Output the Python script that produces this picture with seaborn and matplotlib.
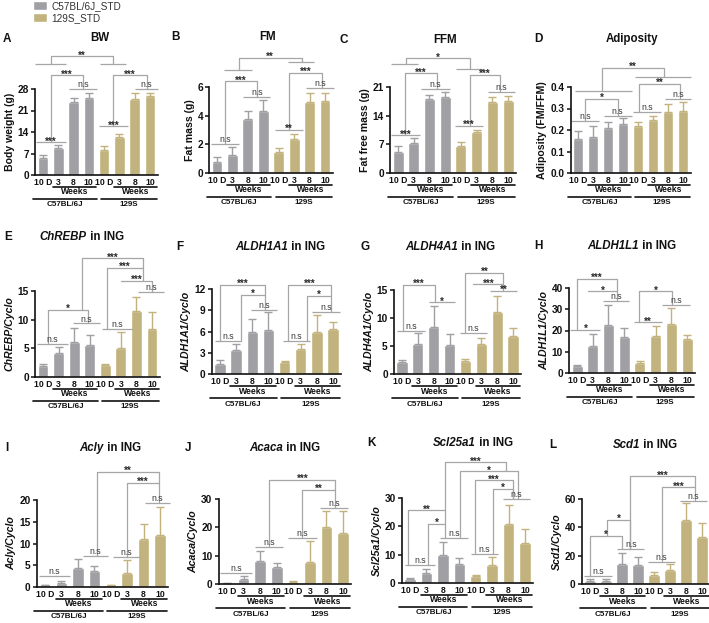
import numpy as np
import pandas as pd
import matplotlib
matplotlib.use("Agg")
import matplotlib.pyplot as plt
import matplotlib.transforms as mtrans
from matplotlib.patches import Patch
import seaborn as sns

# ---------------- data ----------------
time_labels = ["10 D", "3", "8", "10"]
strains = ["C57BL/6J", "129S"]
legend_labels = ["C57BL/6J_STD", "129S_STD"]

BW_C57 = [5.5, 8.9, 23.8, 25.0]
BW_C57_SD = [0.9, 1.0, 1.2, 1.7]
BW_129 = [8.2, 12.5, 24.7, 25.6]
BW_129_SD = [1.3, 1.0, 1.9, 1.0]

FM_C57 = [0.8, 1.27, 3.76, 4.35]
FM_C57_SD = [0.3, 0.53, 0.57, 0.71]
FM_129 = [1.46, 2.4, 4.92, 5.04]
FM_129_SD = [0.28, 0.35, 0.66, 0.54]

FFM_C57 = [5.1, 7.3, 18.0, 18.5]
FFM_C57_SD = [1.5, 1.3, 1.1, 1.4]
FFM_129 = [6.6, 9.9, 17.3, 17.7]
FFM_129_SD = [1.0, 0.7, 1.2, 1.0]

ADI_C57 = [0.160, 0.168, 0.207, 0.227]
ADI_C57_SD = [0.035, 0.050, 0.031, 0.027]
ADI_129 = [0.220, 0.245, 0.285, 0.289]
ADI_129_SD = [0.017, 0.022, 0.035, 0.039]

CHREBP_C57 = [1.93, 4.26, 6.13, 5.66]
CHREBP_C57_SD = [0.37, 1.04, 2.47, 1.64]
CHREBP_129 = [2.04, 5.08, 11.56, 8.35]
CHREBP_129_SD = [0.26, 2.82, 2.44, 3.05]

ALDH1A1_C57 = [1.36, 3.33, 5.9, 6.2]
ALDH1A1_C57_SD = [0.64, 0.87, 1.9, 2.5]
ALDH1A1_129 = [1.64, 3.6, 5.86, 6.33]
ALDH1A1_129_SD = [0.26, 0.6, 2.48, 1.07]

ALDH4A1_C57 = [2.07, 5.4, 8.48, 5.2]
ALDH4A1_C57_SD = [0.48, 1.9, 3.72, 1.9]
ALDH4A1_129 = [2.25, 5.33, 11.14, 6.7]
ALDH4A1_129_SD = [0.42, 1.07, 2.86, 1.48]

ALDH1L1_C57 = [3.1, 12.8, 22.6, 17.1]
ALDH1L1_C57_SD = [0.8, 5.6, 9.6, 3.9]
ALDH1L1_129 = [4.67, 17.6, 23.0, 15.9]
ALDH1L1_129_SD = [1.09, 4.5, 7.4, 2.0]

ACLY_C57 = [0.38, 1.0, 4.4, 3.77]
ACLY_C57_SD = [0.07, 0.3, 2.06, 1.13]
ACLY_129 = [0.46, 3.3, 11.0, 11.85]
ACLY_129_SD = [0.09, 2.85, 3.4, 6.45]

ACACA_C57 = [0.35, 1.9, 8.0, 6.1]
ACACA_C57_SD = [0.15, 0.8, 3.8, 1.3]
ACACA_129 = [0.7, 7.8, 20.1, 18.0]
ACACA_129_SD = [0.2, 7.3, 5.5, 7.6]

SCL_C57 = [1.4, 3.5, 9.9, 6.8]
SCL_C57_SD = [0.35, 1.5, 4.7, 2.2]
SCL_129 = [2.33, 6.2, 21.0, 14.0]
SCL_129_SD = [0.57, 3.1, 6.4, 5.0]

SCD1_C57 = [2.1, 1.9, 14.2, 13.5]
SCD1_C57_SD = [1.2, 1.4, 8.0, 5.4]
SCD1_129 = [6.4, 9.9, 45.4, 33.5]
SCD1_129_SD = [1.9, 4.0, 11.8, 9.5]

# ---------------- style ----------------
sns.set_theme(style="white")
plt.rcParams["font.family"] = ["Liberation Sans", "DejaVu Sans"]
GRAY = "#a0a0a4"
TAN = "#c2b27d"
BRK = "#a6a6a6"
W, H = 709, 623

fig = plt.figure(figsize=(W / 100, H / 100), dpi=100)

# geometry: (first bar center px, last bar center px, y0 px, ytop px)
panels = [
    dict(letter="A", title="BW", gene=False, ylabel="Body weight (g)",
         c57=BW_C57, c57sd=BW_C57_SD, s129=BW_129, s129sd=BW_129_SD,
         yticks=[0, 7, 14, 21, 28], fmt="%d", geo=(43, 150, 175, 89),
         letter_xy=(7, 39), title_xy=(100, 38),
         lines=[(-0.45, 1.48, 10.7, "***"), (1.7, 3.5, 28.0, "n.s"),
                (3.65, 5.58, 15.9, "***"), (6.0, 7.5, 28.0, "n.s"),
                (-0.55, 1.5, 36.0, ""), (3.7, 5.45, 36.0, "")],
         brackets=[(0.5, 2.6, 32.4, 10.7, 28.0, "***"),
                   (4.6, 6.8, 32.4, 15.9, 28.0, "***"),
                   (0.5, 4.55, 38.6, 36.0, 36.0, "**")]),
    dict(letter="B", title="FM", gene=False, ylabel="Fat mass (g)",
         c57=FM_C57, c57sd=FM_C57_SD, s129=FM_129, s129sd=FM_129_SD,
         yticks=[0, 2, 4, 6], fmt="%d", geo=(217, 325, 173, 87),
         letter_xy=(175, 37), title_xy=(268, 37),
         lines=[(-0.39, 1.44, 2.0, "n.s"), (1.7, 3.45, 5.3, "n.s"),
                (3.77, 5.56, 3.0, "**"), (5.8, 7.6, 5.93, "n.s"),
                (0.47, 2.26, 7.22, ""), (4.63, 6.29, 7.74, "")],
         brackets=[(0.54, 2.6, 6.4, 2.0, 5.3, "***"),
                   (4.68, 6.83, 7.0, 3.0, 5.93, "***"),
                   (1.4, 5.5, 8.05, 7.22, 7.74, "**")]),
    dict(letter="C", title="FFM", gene=False, ylabel="Fat free mass (g)",
         c57=FFM_C57, c57sd=FFM_C57_SD, s129=FFM_129, s129sd=FFM_129_SD,
         yticks=[0, 7, 14, 21], fmt="%d", geo=(398, 508, 173, 87),
         letter_xy=(344, 40), title_xy=(445, 40),
         lines=[(-0.42, 1.38, 9.2, "***"), (1.49, 3.29, 20.5, "n.s"),
                (3.65, 5.41, 11.45, "***"), (5.73, 7.43, 19.7, "n.s"),
                (-0.42, 1.27, 26.5, ""), (3.7, 5.4, 25.5, "")],
         brackets=[(0.47, 2.48, 24.3, 9.2, 20.5, "***"),
                   (4.56, 6.52, 24.0, 11.45, 19.7, "***"),
                   (0.53, 4.56, 28.0, 26.5, 25.5, "*")]),
    dict(letter="D", title="Adiposity", gene=False, ylabel="Adiposity (FM/FFM)",
         c57=ADI_C57, c57sd=ADI_C57_SD, s129=ADI_129, s129sd=ADI_129_SD,
         yticks=[0.0, 0.1, 0.2, 0.3, 0.4], fmt="%.1f", geo=(578, 683, 173, 87),
         letter_xy=(538, 39), title_xy=(632, 39),
         lines=[(-0.45, 1.37, 0.242, "n.s"), (1.7, 3.58, 0.267, "n.s"),
                (-0.18, 3.58, 0.38, ""), (3.69, 5.56, 0.285, "n.s"),
                (5.78, 7.55, 0.344, "n.s"), (3.8, 7.55, 0.447, "")],
         brackets=[(0.49, 2.69, 0.344, 0.242, 0.267, "*"),
                   (4.08, 6.78, 0.416, 0.285, 0.344, "**"),
                   (1.63, 5.74, 0.49, 0.38, 0.447, "**")]),
    dict(letter="E", title="ChREBP", gene=True, ylabel="ChREBP/Cyclo",
         c57=CHREBP_C57, c57sd=CHREBP_C57_SD, s129=CHREBP_129, s129sd=CHREBP_129_SD,
         yticks=[0, 5, 10, 15], fmt="%d", geo=(43, 152, 377, 291),
         letter_xy=(8, 237), title_xy=(82, 237),
         lines=[(-0.39, 1.62, 5.84, "n.s"), (1.9, 3.66, 9.34, "n.s"),
                (3.77, 5.78, 8.35, "n.s"), (6.1, 7.8, 14.77, "n.s")],
         brackets=[(0.32, 2.9, 11.7, 5.84, 9.34, "*"),
                   (2.48, 6.42, 20.7, 11.7, 19.0, "***"),
                   (4.14, 6.42, 19.0, 8.35, 16.8, "***"),
                   (5.0, 7.0, 16.8, None, 14.77, "***")]),
    dict(letter="F", title="ALDH1A1", gene=True, ylabel="ALDH1A1/Cyclo",
         c57=ALDH1A1_C57, c57sd=ALDH1A1_C57_SD, s129=ALDH1A1_129, s129sd=ALDH1A1_129_SD,
         yticks=[0, 3, 6, 9, 12], fmt="%d", geo=(220, 333, 374, 289),
         letter_xy=(180, 247), title_xy=(280, 247),
         lines=[(-0.32, 1.29, 4.6, "n.s"), (1.9, 3.56, 9.05, "n.s"),
                (3.88, 5.6, 4.6, "n.s"), (5.71, 7.43, 8.8, "n.s")],
         brackets=[(0.0, 2.8, 12.56, 4.6, 11.16, "***"),
                   (1.29, 2.8, 11.16, 4.6, 9.05, "*"),
                   (4.2, 6.9, 12.56, 4.6, 11.0, "***"),
                   (5.39, 6.9, 11.0, 4.6, 8.8, "*")]),
    dict(letter="G", title="ALDH4A1", gene=True, ylabel="ALDH4A1/Cyclo",
         c57=ALDH4A1_C57, c57sd=ALDH4A1_C57_SD, s129=ALDH4A1_129, s129sd=ALDH4A1_129_SD,
         yticks=[0, 5, 10, 15], fmt="%d", geo=(402, 513, 374, 290),
         letter_xy=(365, 247), title_xy=(450, 247),
         lines=[(-0.32, 1.47, 7.6, "n.s"), (1.68, 3.36, 12.8, "*"),
                (3.68, 5.36, 7.3, "n.s"), (5.57, 7.25, 14.8, "**")],
         brackets=[(0.06, 2.06, 15.9, 7.6, 12.8, "***"),
                   (4.0, 6.4, 18.1, 7.3, 16.0, "**"),
                   (4.5, 6.4, 16.0, None, 14.8, "***")]),
    dict(letter="H", title="ALDH1L1", gene=True, ylabel="ALDH1L1/Cyclo",
         c57=ALDH1L1_C57, c57sd=ALDH1L1_C57_SD, s129=ALDH1L1_129, s129sd=ALDH1L1_129_SD,
         yticks=[0, 10, 20, 30, 40], fmt="%d", geo=(577, 687, 373, 288),
         letter_xy=(538, 246), title_xy=(632, 246),
         lines=[(-0.42, 1.49, 20.2, "*"), (1.63, 3.33, 33.8, "n.s"),
                (3.6, 5.41, 23.8, "**"), (5.41, 7.2, 31.9, "n.s")],
         brackets=[(0.0, 2.55, 44.4, 20.2, 38.4, "***"),
                   (0.7, 2.55, 38.4, None, 33.8, "*"),
                   (3.97, 6.05, 38.4, 23.8, 31.9, "*")]),
    dict(letter="I", title="Acly", gene=True, ylabel="Acly/Cyclo",
         c57=ACLY_C57, c57sd=ACLY_C57_SD, s129=ACLY_129, s129sd=ACLY_129_SD,
         yticks=[0, 5, 10, 15, 20], fmt="%d", geo=(45, 160, 587, 500),
         letter_xy=(7, 448), title_xy=(110, 448),
         lines=[(-0.35, 1.5, 2.46, "n.s"), (2.3, 3.85, 7.15, "n.s"),
                (4.16, 5.78, 6.9, "n.s"), (6.09, 7.61, 19.4, "n.s")],
         brackets=[(5.0, 6.95, 24.0, 6.9, 19.4, "***"),
                   (3.14, 6.95, 26.5, 7.15, 24.0, "**")]),
    dict(letter="J", title="Acaca", gene=True, ylabel="Acaca/Cyclo",
         c57=ACACA_C57, c57sd=ACACA_C57_SD, s129=ACACA_129, s129sd=ACACA_129_SD,
         yticks=[0, 10, 20, 30], fmt="%d", geo=(227, 343, 584, 499),
         letter_xy=(188, 448), title_xy=(285, 448),
         lines=[(-0.42, 1.49, 3.9, "n.s"), (1.7, 3.4, 13.06, "n.s"),
                (3.67, 5.41, 16.2, "n.s"), (5.63, 7.32, 26.8, "n.s")],
         brackets=[(4.52, 6.54, 33.3, 16.2, 26.8, "**"),
                   (2.55, 6.54, 36.8, 13.06, 33.3, "***")]),
    dict(letter="K", title="Scl25a1", gene=True, ylabel="Scl25a1/Cyclo",
         c57=SCL_C57, c57sd=SCL_C57_SD, s129=SCL_129, s129sd=SCL_129_SD,
         yticks=[0, 10, 20, 30], fmt="%d", geo=(410, 525, 583, 498),
         letter_xy=(372, 443), title_xy=(473, 443),
         lines=[(-0.3, 1.52, 6.2, "n.s"), (1.83, 3.55, 15.75, "n.s"),
                (3.71, 5.38, 10.15, "n.s"), (5.68, 7.3, 29.75, "n.s")],
         brackets=[(-0.1, 2.13, 25.7, 6.2, 21.0, "**"),
                   (1.12, 2.13, 21.0, 6.2, 15.75, "*"),
                   (2.13, 5.82, 42.6, 25.7, 39.4, "***"),
                   (3.04, 6.6, 39.4, 15.75, 29.75, "*"),
                   (3.96, 6.29, 36.3, 10.15, 29.75, "***"),
                   (5.07, 6.29, 33.3, 10.15, 29.75, "*")]),
    dict(letter="L", title="Scd1", gene=True, ylabel="Scd1/Cyclo",
         c57=SCD1_C57, c57sd=SCD1_C57_SD, s129=SCD1_129, s129sd=SCD1_129_SD,
         yticks=[0, 20, 40, 60], fmt="%d", geo=(590, 702, 584, 499),
         letter_xy=(553, 445), title_xy=(645, 445),
         lines=[(-0.36, 1.38, 5.67, "n.s"), (1.7, 3.4, 24.6, "n.s"),
                (3.6, 5.3, 15.8, "n.s"), (5.63, 7.3, 58.8, "n.s")],
         brackets=[(0.0, 2.02, 34.0, 5.67, 24.6, "*"),
                   (1.06, 2.5, 45.4, 34.0, 24.6, "*"),
                   (2.5, 6.58, 76.0, 24.6, 68.3, "***"),
                   (4.5, 6.58, 68.3, 15.8, 58.8, "***")]),
]

renderer = fig.canvas.get_renderer()


def fx(px):
    return px / W


def fy(py):
    return 1 - py / H


def put_text(ax, x, y, txt):
    star = "*" in txt
    ax.annotate(txt, xy=(x, y), xytext=(0, -1.6 if star else 1.4),
                textcoords="offset points", ha="center", va="baseline",
                fontsize=7 if star else 6.3,
                fontweight="bold" if star else "normal",
                color="#2a2a2a" if star else "#3a3a3a",
                annotation_clip=False)


def draw_panel(p):
    b0, b7, y0, ytop = p["geo"]
    s = (b7 - b0) / 7
    ax = fig.add_axes([fx(b0 - 0.5 * s), fy(y0), 8 * s / W, (y0 - ytop) / H])
    vals = list(p["c57"]) + list(p["s129"])
    df = pd.DataFrame({"pos": np.arange(8), "value": vals,
                       "strain": [strains[0]] * 4 + [strains[1]] * 4})
    sns.barplot(data=df, x="pos", y="value", hue="strain",
                hue_order=strains, palette=[GRAY, TAN], dodge=False,
                width=0.7, errorbar=None, saturation=1, legend=False, ax=ax)
    for grp, (m, sd, col) in enumerate([(p["c57"], p["c57sd"], GRAY),
                                        (p["s129"], p["s129sd"], TAN)]):
        xs = np.arange(4) + 4 * grp
        ax.errorbar(xs, m, yerr=[np.zeros(4), sd], fmt="none", ecolor=col,
                    elinewidth=1.0, capsize=2.6, capthick=1.0, zorder=1)
    ymax = p["yticks"][-1]
    ax.set_xlim(-0.5, 7.5)
    ax.set_ylim(0, ymax)
    ax.set_yticks(p["yticks"])
    ax.set_yticklabels([p["fmt"] % v for v in p["yticks"]])
    ax.set_xticks(range(8))
    ax.set_xticklabels(time_labels * 2)
    ax.set_xlabel("")
    sns.despine(ax=ax)
    for sp in ("left", "bottom"):
        ax.spines[sp].set_linewidth(1.2)
        ax.spines[sp].set_color("#111111")
    ax.tick_params(axis="x", length=0, pad=2.2, labelsize=6.2)
    ax.tick_params(axis="y", length=3, width=1.1, pad=1.5, labelsize=7.3,
                   left=True, color="#111111")
    for lbl in ax.get_xticklabels() + ax.get_yticklabels():
        lbl.set_fontweight("bold")
        lbl.set_color("#111111")
    ax.set_ylabel(p["ylabel"], fontsize=7.6, fontweight="bold",
                  fontstyle="italic" if p["gene"] else "normal",
                  labelpad=2, color="#111111")
    # significance lines and brackets
    for x1, x2, y, t in p["lines"]:
        ax.plot([x1, x2], [y, y], color=BRK, lw=0.9, clip_on=False,
                solid_capstyle="butt")
        if t:
            put_text(ax, (x1 + x2) / 2, y, t)
    for x1, x2, yt, y1, y2, t in p["brackets"]:
        xs, ys = [], []
        if y1 is not None:
            xs.append(x1); ys.append(y1)
        xs += [x1, x2]; ys += [yt, yt]
        if y2 is not None:
            xs.append(x2); ys.append(y2)
        ax.plot(xs, ys, color=BRK, lw=0.9, clip_on=False)
        put_text(ax, (x1 + x2) / 2, yt, t)
    # below-axis group annotations
    base = mtrans.blended_transform_factory(ax.transData, ax.transAxes)

    def off(dy):
        return base + mtrans.ScaledTranslation(0, -dy / 100, fig.dpi_scale_trans)

    for g0 in (0, 4):
        ax.plot([g0 + 0.65, g0 + 3.45], [0, 0], transform=off(11.5), color="#111111",
                lw=1.2, clip_on=False)
        ax.text(g0 + 2.05, 0, "Weeks", transform=off(17), ha="center",
                va="center", fontsize=6.2, fontweight="bold", color="#111111")
    ax.plot([-0.65, 3.5], [0, 0], transform=off(24), color="#111111", lw=1.2,
            clip_on=False)
    ax.plot([3.8, 7.45], [0, 0], transform=off(24), color="#111111", lw=1.2,
            clip_on=False)
    ax.text(1.45, 0, strains[0], transform=off(30), ha="center", va="center",
            fontsize=5.8, fontweight="bold", color="#111111")
    ax.text(5.6, 0, strains[1], transform=off(30), ha="center", va="center",
            fontsize=5.8, fontweight="bold", color="#111111")
    # panel letter
    lx, ly = p["letter_xy"]
    fig.text(fx(lx), fy(ly), p["letter"], ha="center", va="center",
             fontsize=8.5, fontweight="bold", color="#111111")
    # title
    tx, ty = p["title_xy"]
    if p["gene"]:
        parts = [(p["title"], "italic"), (" in ING", "normal")]
    else:
        parts = [(p["title"], "normal")]
    texts = [fig.text(0, fy(ty), t, ha="left", va="center", fontsize=8.3,
                      fontweight="bold", fontstyle=st, color="#111111")
             for t, st in parts]
    widths = [t.get_window_extent(renderer).width for t in texts]
    start = tx - sum(widths) / 2
    for t, w in zip(texts, widths):
        t.set_x(fx(start))
        start += w


for p in panels:
    draw_panel(p)

fig.legend(handles=[Patch(facecolor=GRAY), Patch(facecolor=TAN)],
           labels=legend_labels, loc="upper left",
           bbox_to_anchor=(fx(32), 1.0), frameon=False, fontsize=7.2,
           borderaxespad=0, borderpad=0.1, handlelength=1.4,
           handleheight=0.95, handletextpad=0.45, labelspacing=0.2,
           labelcolor="#333333")

fig.savefig("out.png", dpi=100)
